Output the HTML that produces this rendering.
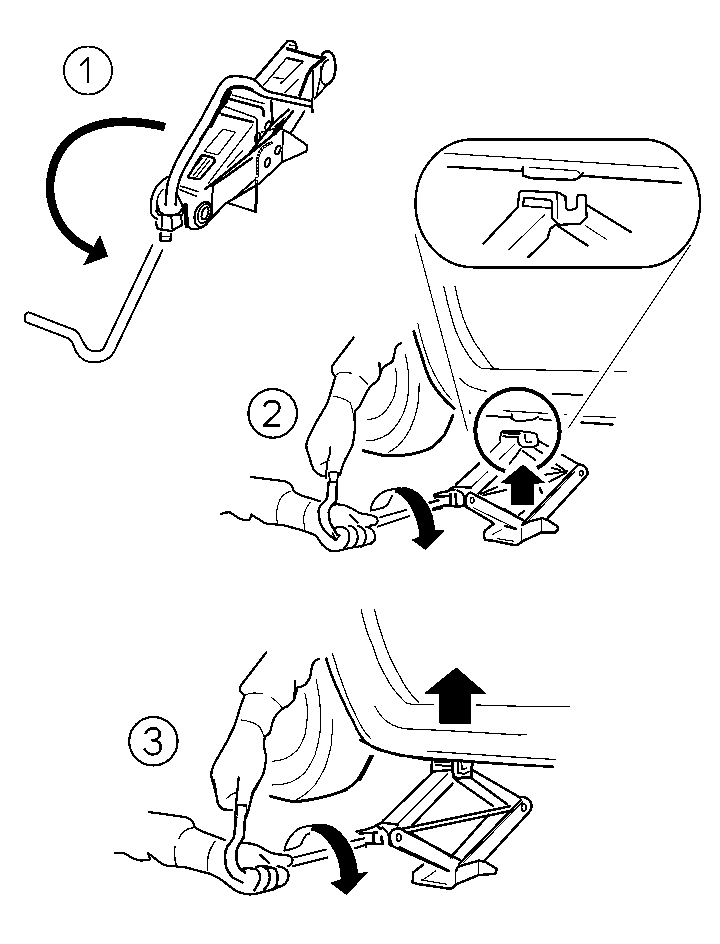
<!DOCTYPE html>
<html><head><meta charset="utf-8"><style>
html,body{margin:0;padding:0;background:#fff;}
svg{display:block;}
</style></head><body>
<svg width="720" height="944" viewBox="0 0 720 944" fill="none" stroke="#000" stroke-width="2" stroke-linejoin="round" stroke-linecap="round" shape-rendering="crispEdges">
<rect x="0" y="0" width="720" height="944" fill="#fff" stroke="none"/>
<!-- FIG1 -->
<g id="fig1">
<circle cx="88" cy="70.5" r="24" stroke-width="1.9"/>
<path d="M80,66 L88,58 L88,83" stroke-width="2.6" stroke-linecap="butt"/>
<path d="M165,127 C128,118 96,120 73,137 C50,155 46,188 53.5,209 C61,231 75,243 92,250" stroke-width="8.5" stroke-linecap="butt"/>
<path d="M100,236 L107.5,256 L83.75,265 Z" fill="#000" stroke-width="1"/>
<!-- lever -->
<path d="M152.5,245 L103.3,349.2 C99,352 92,352 88.3,349.2 C84,345 82,340 79,334 C76,330 73,329 70,328.3 L29.2,312.5 C27,312 25,314 25,316 L25,320 C25,321 26,322 27,322.5 L68.3,338.3 C71,340 73,343 74,347 C76,353 80,358 86,361 C94,364 104,362 110,357 C113,354 114,352 115,350 L162.5,250"/>
<!-- handle -->
<path d="M165.6,205 L166.7,189 C168,178 175,163 181,152 L200,121 L215.6,92.2 C219,85 223,78 230,76.5 C240,75.5 252,77 257,82 C261,87 264,90 270,92 L311.7,101 L312.5,112" stroke-width="2.4"/>
<path d="M175.6,205 L176.7,192 C178,183 182,172 187,164 L212,121 L223,100 C225,94 228,88 234,87 C242,86 250,89 258,94 C263,97 268,98 272,98.5 L312,107" stroke-width="2.4"/>
<path d="M222,101 C225,94 228,88 234,87 C242,86 247,87.5 252,90" stroke-width="3.6"/>
<path d="M210.5,126 L215.1,116.7 L220,108 L224.9,102.8 L229.7,92.4" stroke-width="4.6"/>
<path d="M200,140 L212,122" stroke-width="3"/>

<!-- jack1 head -->








<path d="M255,79.2 L287.5,41.25 C289,40.5 292,40.8 294.6,42.1 C296,43.5 296.5,46 296.7,48.3" stroke-width="2.5"/>
<path d="M289.2,45 L294.2,45.8" stroke-width="1.5"/>
<path d="M287.5,48.8 C295,51 305,54 313,56 L322,58" stroke-width="3.4"/>
<path d="M322,55 C323.5,52 326,51 328,51.3 C331.5,52 333.5,55 334.5,59 C335.8,65 335.6,73 333.3,78.3 C331.5,82 329,84.5 325,85" stroke-width="2.6"/>
<path d="M328.3,60 C325,61 323,64 322,68 C320.5,73 320.5,78 321.7,81.7 C322.5,83.5 324,84.5 325,85" stroke-width="2"/>
<path d="M325,57.5 L311.7,68.3 L307.5,75 L300,95" stroke-width="3.6"/>
<path d="M312.5,70 L313.3,95 L311.7,101" stroke-width="2"/>
<path d="M320.8,66.7 L320.8,75 L316.7,95" stroke-width="1.5"/>
<path d="M286.7,57.9 L302.5,61.7" stroke-width="2.5"/>
<path d="M286.7,57.9 L263.5,85.5 M302.5,62.5 L281,83 M274,77.5 L283,78.8" stroke-width="1.5"/>
<path d="M298.3,79.2 L285,92.5" stroke-width="1.2"/>
<path d="M328,84 L314.5,99" stroke-width="2"/>
<!-- body top -->
<path d="M232.5,95.1 L264.2,103.6" stroke-width="1.5"/>
<path d="M229.7,99 L262,107.8 C263.3,109 263.9,112 263.75,115.5" stroke-width="2.6"/>
<path d="M222,105.6 L255,117.4 L257,119.4 L257,147" stroke-width="1.5"/>
<path d="M222,114.4 L253,122.2" stroke-width="2.6"/>
<path d="M219,106.7 L220,113.3"/>
<path d="M222.9,129.2 L235.4,132.2 L218,154.9 L204.2,151.4 Z" stroke-width="1.3"/>
<!-- pad -->
<path d="M188,177 L201,156 Q203,155 205,155.5 L213,157.8 Q215,159 214.4,162.2 L200.5,178.5 Q199,179.5 197,179 L189,177.5 Z" stroke-width="2.5"/>
<path d="M189,174.4 L202.2,158.3 M193.3,175.6 L206.7,158.9 M196.7,176.7 L210,160" stroke-width="1.3"/>
<!-- body long lines -->
<path d="M252.8,125 L208.3,183.3" stroke-width="1.3"/>
<path d="M243,150 L227,168" stroke-width="1.3"/>
<path d="M292.8,111.5 L277,132 L205.6,188.9" stroke-width="2.6"/>
<path d="M288.9,109.6 L273.3,123.2 L250,152.3" stroke-width="2.4"/>
<path d="M276,127 L283,120 L282,127 L276,134 L271,136 Z" fill="#000" stroke-width="1.5"/>
<path d="M286,117 L274,127" stroke-width="1"/>
<path d="M232,200 L255.6,179.2"/>
<path d="M180.6,186.1 L198.3,191.7 M179.4,189.4 L196.1,196.1" stroke-width="1.6"/>
<ellipse cx="268" cy="125.7" rx="2.3" ry="4.6" transform="rotate(20 268 125.7)"/>
<ellipse cx="257.6" cy="137.5" rx="2.3" ry="4.6" transform="rotate(20 257.6 137.5)"/>
<ellipse cx="267.4" cy="162.5" rx="2.3" ry="4.6" transform="rotate(20 267.4 162.5)"/>
<ellipse cx="277.8" cy="150" rx="2.3" ry="4.6" transform="rotate(20 277.8 150)"/>
<path d="M271.4,142.8 C266,145 262,148 260.3,151.1 C258.5,154 257.5,157 257.5,160.8 L256.8,184.4" stroke-width="3"/>
<path d="M271.4,142.8 C266,145 262,148 260.3,151.1 C258.5,154 257.5,157 257.5,160.8 L256.8,184.4" stroke="#fff" stroke-width="1.2" stroke-dasharray="1.6 1.6" stroke-linecap="butt"/>
<path d="M256.8,184.4 L256.4,200 L255.4,209.4" stroke-width="3"/>
<path d="M271.1,100.8 L272.5,121.7" stroke-width="2.6"/>
<path d="M304.4,111.5 L290.8,132.9" stroke-width="2.2"/>
<path d="M262,132 L277.8,127.8" stroke-width="1.5"/>
<!-- base plates -->
<path d="M282.1,129 L290.8,133.9 L307.3,145.5 L306.4,151.4 L282.1,162.1 L259.7,183.3" stroke-width="2.2"/>
<path d="M283,132 L282.1,162.1" stroke-width="1.8"/>
<path d="M226.25,202.5 L256.25,212 L256.25,187.5"/>
<path d="M207.2,222.8 L225,203.9 L259.7,183.3" stroke-width="2.5"/>
<path d="M211.7,186.1 L225,177.2 L252,158" stroke-width="2.5"/>
<!-- socket / yoke -->
<path d="M167.2,177.2 C162,180 158.3,183.9 155,189 C152,195 150.6,201 150.6,207.2 C150.6,212 151.5,215 152.8,216.1 L157.2,219.4" stroke-width="2.2"/>
<path d="M162.8,189.4 C159,194 157.2,198 157.2,200.6 L156.1,211.7" stroke-width="1.5"/>



<path d="M177.2,195 L183.9,208.3 L188.3,226.1 L191.7,229.4 L200.6,228.3 L207.2,222.8 L211.7,211.7 L212.8,186.1" stroke-width="2"/>



</g>

<path d="M158,206 C158,212 162,215 168,215.5 C174,216 180,214 182,209" stroke-width="2.4"/>
<path d="M157.7,205.7 C156,209 156.5,213 159.7,215.5 M182,205 C184,209 184,212 182,215" stroke-width="2"/>
<path d="M159.7,215.5 L182,215" stroke-width="2"/>
<path d="M161.6,215.5 L161.6,227 M171.3,216 L172.3,228 M181,215 L182,225" stroke-width="2"/>
<path d="M155.8,222.2 L157.7,229 L171.3,231 L182,225" stroke-width="2.4"/>
<path d="M160.6,232.9 L160.6,240.7 L170.4,240.7 L171.3,233.9" stroke-width="2.4"/>
<path d="M161,236.5 L170.5,236.5" stroke-width="1.5"/>
<ellipse cx="203.3" cy="214.4" rx="8.2" ry="13" transform="rotate(20 203.3 214.4)" stroke-width="2.2"/>
<ellipse cx="204.2" cy="213.6" rx="5.8" ry="10" transform="rotate(20 204.2 213.6)" stroke-width="1.6"/>
<ellipse cx="205" cy="213.4" rx="3" ry="6.4" transform="rotate(20 205 213.4)" stroke-width="2"/>
<path d="M185.5,205 L186.8,226" stroke-width="4.5"/>
<!-- FIG2 inset -->
<g id="inset">
<rect x="415.5" y="139.3" width="284.5" height="128" rx="58" ry="64" stroke-width="2.4"/>
<path d="M445,153.3 L678.9,168.2" stroke-width="1.2"/>
<path d="M448.3,166.7 L521.7,171.1 L523.2,166.7 L523.2,175.7" stroke-width="2.3"/>
<path d="M529.4,167.4 L576.7,170.8 Q579.5,172 579.4,173.6" stroke-width="1.3"/>
<path d="M523.9,175.7 C528,178 533,178.5 537.8,178.5 L571.1,179.9 C576,180 579,178 580.8,175.7 L582.9,172.9 M580.8,175.7 L681.1,182.9" stroke-width="2.5"/>
<path d="M517.9,207.1 L519,193.5 Q519.5,191 522,190.8 L557.5,192.5 Q561.5,193 562,195 L565.5,196 L565.8,207.1 Q567,210 570,210.2 L574.2,209.2 Q577,208 577.3,205 L577.3,196.7 Q578,194.6 580.4,194.6 L585.6,195.6 L586.7,217.5 L580.4,223.8 L559.6,224.8 L555.4,221.7" stroke-width="2.2"/>
<path d="M523.1,205 L524.2,197.7 L549.2,199.8 Q552,201 552.3,202.9 L552.3,218.5 L555.4,221.7" stroke-width="2.2"/>
<path d="M557,194.6 L557.5,218" stroke-width="1.2"/>
<path d="M517.9,207.1 L483.5,243.5" stroke-width="2.3"/>
<path d="M523.1,206 L551.3,208.1" stroke-width="1.8"/>
<path d="M545,214.4 L508.5,249.8" stroke-width="1"/>
<path d="M555.4,224.8 L550.2,229 Q548.5,233 548.1,238.3 L528.3,257.1" stroke-width="2.3"/>
<path d="M557.5,225.8 L587.7,245.6" stroke-width="2.3"/>
<path d="M586.7,205 L631.1,232.2" stroke-width="2.3"/>
<path d="M585.6,225.8 L606.5,239.4" stroke-width="1"/>
</g>

<!-- FIG2 body -->
<g id="fig2body">
<path d="M415,234 L467.4,430.5" stroke-width="1.1"/>
<path d="M469.6,411 L470.2,413.5" stroke-width="1.5"/>
<path d="M690,245.5 L568.75,427.5" stroke-width="1.1"/>
<path d="M583.75,416.25 L615,417.5" stroke-width="1.2"/>
<path d="M581.25,422.5 L612.5,424.5" stroke-width="2.4"/>
<path d="M565,414.5 L567,415" stroke-width="1.2"/>
<path d="M443.75,286.25 C448,305 452,322 457.5,335 C462,346 466,352 470,357.5 C474,363 478,367 482.5,368.75 L598.75,371.25 M615,371.25 L626.25,371.25" stroke-width="1.2"/>
<path d="M455,286.25 C458,300 461,313 465,322.5 C470,335 475,344 480,350 C485,357 489,363 493.75,368.75" stroke-width="1.2"/>
<path d="M460,378.75 C464,383 468,386 472.5,387.5 C477,389 481,390.5 486.25,391.25" stroke-width="1.2"/>
<path d="M552.5,393.75 L582.5,395" stroke-width="2"/>


<!-- tire -->
<path d="M413.8,331.5 C416,340 418,346 420.7,352.9 C423,361 425,368 428.3,375.8 C431,382 434,387 437.5,391.1 C441,396 444,399 446.7,401.8 L454.3,408.7" stroke-width="3"/>
<path d="M418,323.8 L419.2,330 C422,342 425,351 428.3,360.6 C432,370 436,378 440.6,385 C444,391 448,396 451.3,399.5" stroke-width="1.1"/>
<path d="M452.8,415.6 C450,424 447,429 445.1,433.9 C441,440 436,444 431.4,447.6 C425,451 419,452.5 413.1,453.8 C406,455 399,456 393.2,456 C387,456 383,455.5 379.4,454.5 C373,453 368,452 363.4,450.7" stroke-width="3"/>
<path d="M395.5,368.2 C396.5,374 397,379 396.3,383.5 C395.8,389 395,394 393.2,398.8 C391,403 388.5,407 385.6,411 C382,414.5 379.5,416.5 376.4,417.9 C373,419 370,419.4 367.2,419.4" stroke-width="1.2"/>
<path d="M405.4,354.4 C407,362 408.5,369 408.5,375.8 C409,384 408.5,391 407.7,398.8 C406,406 404,413 400.8,418.6 C397,425 393,430 388.6,433.9 C384,437 379,439 374.9,440 C371,440.8 368.5,440.9 366.5,440.8" stroke-width="1.2"/>
<path d="M419.2,383.5 C419,392 418.8,399 417.6,406.4 C416,414 413.5,422 410,429.3 C406,437 402,442 397.8,446.1 C394,449 391,451 388.6,452.2" stroke-width="1.2"/>
<!-- upper hand fig2 -->
<path d="M353.75,337.5 L333.75,363.75 C331.5,366.5 331.5,370 332.5,372.5 C333.2,374.5 334.5,375.5 335.6,376.25 C333,385 330,395 327.5,402.5 C323,412 318,418 315,425 C311,432 307,440 306.25,445 C306,449 307.5,452 308.75,455 C310,460 312,466 313.75,470 C316,473 319,475 322.5,476.25 L326,476" stroke-width="2.3"/>
<path d="M400.8,343 C398,345 396,346.5 395.5,348.3 C395,351 394.5,354 394,356 C393.5,359 393,361 391.7,362.1 C388,364 385,366 382.5,368.2 M379.4,362.9 L380.2,375.8 M382.5,368.2 C381,372 380,376 377.9,380.4 C375,383 372.5,384.5 370.3,386.5 C368,389.5 367,391.5 365.7,394.2 C363,399 361.5,403 359.6,406.4 C357.5,409 356,410 355,411" stroke-width="2.3"/>
<path d="M336.9,374.4 C338.5,373 340,372.5 341.25,372.5 L351.9,373.1 M359.4,376.25 C362.5,378.5 365.5,381.5 368.1,385" stroke-width="1.1"/>
<path d="M333.75,396.25 C339,397 345,399 350,402.5 C351.5,405 352.5,408 352.5,412.5" stroke-width="1.1"/>
<path d="M355,411 C354,416 354.5,420 355,425 C355,432 354,438 352.5,445 C350,451 347.5,456 345,460 C343,465 341,470 340,475" stroke-width="2.3"/>
<path d="M330.5,447.2 L329.5,455 L327,462.8 L326,478" stroke-width="2"/>
<path d="M320,465 C323,463 326,461.5 329,460.5" stroke-width="1.1"/>
</g>

<!-- circle 2 -->
<circle cx="272.7" cy="413.4" r="24.3" stroke-width="2.2"/>
<path d="M264.4,406.5 C265,403 268,401.2 272,401.2 C276.5,401.2 279.5,403.5 279.5,407.5 C279.5,410.5 277.5,413 275,415 L264,425.5 L280,425.5" stroke-width="2.6" stroke-linecap="butt"/>
<!-- lower arm fig2, tile (210,440) s4 -->
<g transform="translate(210,440) scale(0.25)" stroke-width="9">
<path d="M165,148 L300,165 C315,170 325,180 330,190 L335,205 C345,212 352,217 360,220 L440,245"/>
<path d="M45,295 C60,290 72,288 80,290 C95,297 110,312 120,315 C135,320 150,322 160,318 L165,298 C175,305 190,315 200,320 C210,328 220,333 230,335 L290,340 C320,348 350,355 380,365 L420,380 C435,395 443,410 450,420 C460,430 470,437 480,440"/>
<path d="M320,205 C295,215 280,230 275,250 C265,280 263,310 270,330" stroke-width="4.5"/>
<path d="M400,250 C385,270 375,290 375,310 C374,330 377,345 380,360" stroke-width="4.5"/>
</g>

<!-- fig2 fist tile (300,470) s8 -->
<g transform="translate(300,470) scale(0.125)" stroke-width="17">
<path stroke-width="20" d="M228,100 C224,150 222,200 215,230 C200,255 175,270 160,290 C150,310 148,325 150,340 C152,370 155,395 160,420 C172,450 185,472 200,490 C220,510 240,528 260,540 L285,560"/>
<path stroke-width="20" d="M295,100 C293,150 292,200 290,250 C275,265 260,278 250,290 C238,305 232,320 230,340 C232,370 235,395 240,420 C250,440 260,455 270,470 C280,490 290,505 300,520"/>
<path d="M262,505 L288,560 L318,522" stroke-width="15"/>
<path d="M232,25 C250,12 290,12 305,25 L297,97 L240,97 Z" stroke-width="15"/>
<path d="M250,290 C265,280 280,275 290,275 C310,275 330,277 350,280 C375,290 400,300 420,310 C440,322 460,335 480,345 C510,352 535,356 560,360 C580,365 600,370 610,380 C620,390 622,400 620,410 C615,425 607,435 600,440 L560,445"/>
<path d="M400,360 C420,380 440,400 460,420"/>
<path d="M268,470 C290,458 315,455 330,455 C370,460 395,490 395,530 C395,570 380,600 350,625"/>
<path d="M390,445 C430,450 460,480 462,530 C462,570 450,600 420,620"/>
<path d="M465,448 C500,455 525,485 527,530 C527,565 515,595 490,615"/>
<path d="M530,455 C570,460 598,490 600,530 C600,560 590,580 565,592"/>
<path d="M240,648 C265,655 290,652 330,640 C360,632 385,626 410,622 C440,618 465,614 490,608 C520,600 545,595 565,588 L600,560"/>
</g>
<!-- tile (330,460) s4.8 -->
<g transform="translate(330,460) scale(0.2083333)" stroke-width="9">
<path d="M240,275 L365,240 M230,320 L380,270"/>



</g>

<path d="M370.6,510.6 C371,506 374,500 377.5,496.25 C380,493.5 383,492 387,490.5 C391,489.5 396,488.5 400,488.1" stroke-width="2"/>
<path d="M370.6,510.6 C374,510 378,509.2 383.75,507.5 C386,506 387.5,505 388.5,503 C389.5,501 390.5,498.5 391.9,496.25" stroke-width="2"/>
<path d="M395,490 C398,488.5 401,487.8 403.75,487.75 C407,487.6 409,488.3 411.25,489.4 C414,490.8 416.5,492 418.75,493.75 C421,496 423,498.5 425,501.25 C427,504 428.7,507 430,510 C431.5,513.5 432.5,516.5 433.1,520 C433.8,523.5 434.5,527 435,530 L443.75,530.6 L425.6,549.4 L412.5,540 L420,536.9 C419.5,534 419.2,530.5 418.75,527.5 C418,524.5 417.3,521.5 416.25,518.75 C415,515.5 414,512.8 412.5,510 C411,507 409.5,504 407.5,501.25 C405.5,499 403.5,497 401.25,495 C399,493.5 397,492.5 395,491.9 Z" fill="#000" stroke-width="1"/>
<path d="M429.4,503.1 L438.75,500.6 M433.1,510 L442.5,508.1" stroke-width="2"/>
<!-- magnifier circle -->
<path d="M505.3,471.1 A42.1,42.1 0 1 1 537.0,468.1" stroke-width="4" stroke-linecap="butt"/>
<path d="M503.3,410.7 L547.8,413.5" stroke-width="1.3"/>
<path d="M486.7,415.6 L511.7,417.6 M511.7,414.2 L511.7,418.3 C513,420 516,421.2 518.6,421.4 L532.5,419.7 C535,419 537,418 538,416.8 M539.4,419 L550.6,420.4" stroke-width="2"/>
<path d="M499.9,439.9 L501.25,432.2 Q502,430.6 504.7,430.6 L522.8,431.5 L533.9,432.9 Q537,434 537.4,436.4 L538,444.7 L533.9,446.8 L522.8,447.2 L518.6,443.3 L518,437.1 L503.3,436.4" stroke-width="2"/>
<path d="M504,432.5 L519,433.5" stroke-width="3.5"/>
<path d="M524.9,435 L525.6,441.5 Q527,442.8 531.8,442" stroke-width="1.6"/>
<path d="M490.8,451.7 L500.6,442" stroke-width="2"/>
<path d="M499.2,459.3 L514.4,444.7" stroke-width="1"/>
<path d="M509.6,463.5 L515.8,455.8 L517.9,453 L520.7,448.9" stroke-width="2"/>
<path d="M522.8,451 L535.3,460 M535.3,448.9 L542.2,453 M538,440.6 L547.8,446.1" stroke-width="2"/>
<!-- big up arrow -->
<path d="M523.1,465 L544,482.5 L533.75,483.5 L533.6,504.6 L511.25,504.6 L511.25,483.5 L501.5,482.7 Z" fill="#000" stroke-width="1"/>
<path d="M540,488.6 L542,493" stroke-width="2.5"/>
<!-- jack2 -->
<path d="M479.2,463.5 L456.25,484.3 L455.6,487" stroke-width="2.5"/>
<path d="M487.5,471.8 L471.5,487" stroke-width="1.1"/>
<path d="M496.5,476.7 L478.5,493.3" stroke-width="2.5"/>
<path d="M480.6,494 L497.2,487 M483.3,495.4 L505.6,489.9" stroke-width="2.2"/>
<path d="M470.8,492.6 L522.2,519.7" stroke-width="2.5"/>
<path d="M473.6,507.9 L516.7,528.75" stroke-width="1.1"/>
<path d="M470.8,492.6 C467,493.5 465.5,497 465.5,500 C465.5,503.5 466,505.5 466.7,507.2 L490.3,521.1" stroke-width="2.5"/>
<ellipse cx="472.2" cy="500.3" rx="1.8" ry="2.8" stroke-width="1.5"/>






<path d="M434,494.7 L441.3,492.3 L448,491.3 L451.3,488 L456,486.7 L465.3,487.3 L471.3,487.7" stroke-width="2.5"/>
<path d="M434.7,496.7 L451.3,496" stroke-width="2.5"/>
<path d="M434,494.7 L434.7,498" stroke-width="2"/>
<path d="M429.3,502.7 L438,500" stroke-width="2.2"/>
<path d="M433.3,508.7 L444.7,505.3 L458,506.7 L466,505.5" stroke-width="2.5"/>
<path d="M450.5,494 L450.5,506 M455.5,494 L456.5,506" stroke-width="2.6"/>
<path d="M452,490 L455,489.5" stroke-width="2"/>
<path d="M457.5,490.5 C462,492 464.5,496 464.5,500 C464.5,503 463.5,505 462,506.5" stroke-width="2.2"/>
<path d="M490.3,521.1 L493.75,523.75 L485,530.6 L483.75,535 L485,540 L492.5,540.6 L513.75,545 L517.5,545 L522.5,541.25 L541.25,532.5 L555,532.5 L558.1,529.4 L557.5,526.25 L547.5,520 L542.5,518.1 L530,521.25 L522.5,525" stroke-width="2.5"/>
<path d="M521.25,528.75 L521.25,542.5 M541.25,520 L541.25,531.9" stroke-width="1.5"/>
<path d="M492.5,534.4 L501.25,530 M497.5,538.75 L513.75,541.25" stroke-width="1.1"/>
<path d="M505,526 L516.25,529" stroke-width="2.5"/>
<path d="M523,523.3 L577.2,465.7 C579,464.3 582,464.5 584,466 C586.5,468 587.8,471 587.6,474 L586.25,476.1 L546.7,519.2" stroke-width="2.5"/>
<path d="M528.6,520.6 L574.4,472" stroke-width="1.1"/>
<ellipse cx="581.4" cy="473.3" rx="1.8" ry="2.6" stroke-width="1.5"/>
<path d="M545.3,474.7 L567.5,471.25 M549.4,481.7 L566,473 M556.4,464.3 L566.1,471.25 M552,468 L560,470" stroke-width="2"/>
<path d="M562,454.6 L580,465" stroke-width="2.2"/>
<path d="M505,509.4 L525.8,521.9 M518.9,515 L524.4,510.8" stroke-width="2.2"/>



<!-- FIG3 -->
<g id="fig3">
<!-- body tile (340,600) s4 -->
<g transform="translate(340,600) scale(0.25)" stroke-width="5">
<path d="M85,40 C100,110 115,150 130,180 C145,230 160,270 180,300 C195,330 210,355 230,375 C245,392 255,405 265,412 C280,417 295,418 310,418 L375,418 M545,420 L720,425"/>
<path d="M138,40 C148,80 158,115 170,150 C185,195 198,230 215,260 C232,292 248,325 265,350 C282,375 298,395 315,410"/>
<path d="M140,425 C150,445 162,465 180,480 C200,497 225,508 255,515 L420,522 L720,540"/>


<path d="M355,605 L720,630"/>
<path d="M120,625 C105,660 85,695 70,720" stroke-width="10"/>
<path d="M465,272 L582,373 L522,375 L522,492 L398,492 L398,375 L340,373 Z" fill="#000" stroke-width="4"/>
</g>
<path d="M326.25,658.75 C328,665 330,671 331.6,675.1 C334,681 336,686 337.5,689.1 L344.4,704.2 C347,710 349,714 351.4,718.2 C354,723 356,728 358.4,732.2 C360,735 362,738 364.2,740.3 C366.5,742.7 369,744.5 371.2,746.1 C373.5,747.5 376,748.7 378.2,749.6 L400,755.5 L432.5,758.75 L520,765" stroke-width="2.6"/>
<path d="M332.5,653.75 C333,656 334,658 334.6,660 C336.5,667 338.8,674 341,679.8 C343.3,686 345.5,692.5 347.9,698.4 C350,704 352.5,709 354.9,713.6 C357,718.5 359.5,723 361.9,727.5 C364.5,731.5 367.5,735.5 370.6,738.6" stroke-width="1.2"/>
<path d="M520,706.25 L569.2,706.3 M520,735 L526.7,734.5 M520,757.5 L555.8,759.5" stroke-width="1.2"/>
<path d="M520,765 L552.5,766.7" stroke-width="2.6"/>
<!-- hand/tire tile (200,640) s4 -->
<g transform="translate(200,640) scale(0.25)" stroke-width="9.2">
<path d="M265,50 L165,180 C158,192 158,200 160,205 L178,222"/>
<path d="M178,222 C190,215 200,212 215,212 C230,212 240,213 250,215" stroke-width="4.5"/>
<path d="M285,230 C300,240 310,248 315,255 C322,262 327,270 330,275" stroke-width="4.5"/>
<path d="M475,75 C465,80 458,85 455,90 C448,100 446,110 445,120 C443,132 442,142 440,150 C433,162 427,172 420,180 C410,186 400,189 390,190 M380,165 L378,230 M390,190 C385,210 380,228 375,240 C365,250 357,258 350,265 C340,270 335,272 330,275 C318,285 310,292 305,300 C298,310 293,320 290,330 C286,345 283,358 280,370 C275,378 268,382 260,385"/>
<path d="M178,222 C172,240 166,255 160,270 C152,300 145,325 135,350 C122,375 112,398 100,420 C85,445 72,468 60,490 C50,510 45,525 45,540 C46,555 50,568 55,580 C58,595 61,607 65,620 C68,635 70,648 75,660 C82,672 90,678 100,680 L130,680"/>
<path d="M165,320 C180,322 195,325 210,330 C225,337 235,343 240,350 C247,362 252,373 255,385" stroke-width="4.5"/>
<path d="M260,385 C257,400 255,410 255,420 C258,437 262,452 265,470 C263,490 260,510 255,530 C248,545 242,558 235,570 C227,587 218,603 210,620 C203,640 199,660 195,680 L180,720"/>
<path d="M155,550 L150,600 L145,650 L140,720"/>
<path d="M105,635 C113,625 122,618 130,615 L150,610" stroke-width="4.5"/>
<path d="M150,660 L185,660 L185,700" stroke-width="5"/>



<path d="M690,465 C680,485 670,503 660,520 C645,543 628,563 610,580 C588,597 564,607 540,615 C513,624 486,630 460,635 C433,640 406,645 380,645 C358,645 338,640 320,635 L280,625" stroke-width="11"/>
<path d="M420,215 C427,245 431,272 430,300 C428,328 425,355 420,380 C411,403 402,423 390,440 C375,455 358,467 340,475 C323,481 306,484 290,485" stroke-width="4.5"/>
<path d="M465,160 C472,195 478,228 480,260 C482,297 482,334 480,370 C476,400 469,430 460,460 C448,485 436,508 420,530 C402,548 382,561 360,570 C337,577 313,580 290,580" stroke-width="4.5"/>
<path d="M530,320 C530,355 528,388 525,420 C519,452 510,482 500,510 C488,535 475,558 460,580 C444,597 428,612 410,625 L375,645" stroke-width="4.5"/>
</g>
</g>

<g id="fig3b">
<circle cx="153.4" cy="741.25" r="24.2" stroke-width="2.2"/>
<path d="M145.6,734 C146.5,730.5 149.5,728.2 153.5,728.2 C157.5,728.2 159.8,730.8 159.8,734 C159.8,737.5 156.5,740 151.9,740.2 C157,740.3 160.8,742.8 160.8,747.2 C160.8,751.5 157.5,754.4 152.8,754.4 C148.8,754.4 146,752 144.4,748.5" stroke-width="2.6" stroke-linecap="butt"/>
<!-- lower arm tile (100,780) s4 -->
<g transform="translate(100,780) scale(0.25)" stroke-width="9">
<path d="M195,128 L340,148 C355,153 365,158 370,165 L380,190 C395,200 408,206 420,210 L500,240"/>
<path d="M60,293 L95,292 C108,298 120,307 130,312 C143,318 155,322 165,322 C180,322 192,320 200,318 L192,292 C200,298 208,304 215,310 C225,318 232,325 240,330 C250,337 260,341 270,343 L300,345 L345,350 C365,355 383,360 400,365 C415,369 428,372 440,375 C452,381 462,386 470,390 C482,396 492,403 500,410 L505,415"/>
<path d="M375,190 C360,193 345,198 335,205 C325,215 318,225 315,235" stroke-width="6"/>
<path d="M300,265 C298,278 297,290 298,300 C299,315 301,328 305,340" stroke-width="6"/>
<path d="M460,245 C452,257 446,268 440,280 C435,293 432,306 430,320 L430,360" stroke-width="6"/>
<path d="M545,150 C542,178 539,205 535,230 C528,243 520,255 510,265 C504,277 501,289 500,300 C500,318 502,334 505,350 C512,365 520,378 530,390 L570,410" stroke-width="10.5"/>
<path d="M580,150 C579,178 577,205 575,230 C568,241 561,251 555,260 C550,270 547,280 545,290 C545,304 546,317 548,330 C551,340 555,348 560,355 L580,370" stroke-width="10.5"/>
<path d="M550,140 L550,100 L585,105 L585,140" stroke-width="6"/>
<path d="M455,0 C459,17 463,33 465,50 C466,63 467,77 470,90 C476,100 482,108 490,115 C503,118 516,119 530,120" stroke-width="8"/>
<path d="M510,70 C520,62 530,55 540,50" stroke-width="5"/>
<path d="M640,0 C628,17 617,33 610,50 C605,67 602,84 600,100 C595,115 588,130 580,145" stroke-width="8"/>
</g>
<!-- circular arrow tile (230,790) s4 -->
<g transform="translate(230,790) scale(0.25)" stroke-width="8">



<path d="M255,270 L385,238 M250,305 L390,270"/>
<path d="M160,25 C195,37 228,45 260,50 C330,43 400,25 470,0" stroke-width="8"/>
</g>
</g>

<path d="M284.4,850.6 C285,847 285.8,845 286.9,842.5 C288,840 289.5,837.5 291.25,835.6 C293.5,832.5 296,830.5 298.75,828.75 C301.5,827.3 304.5,826.7 307.5,826.25 L315,825" stroke-width="2"/>
<path d="M284.4,850.6 C287,850 290,849.5 292.5,848.75 C295,848 297.5,847 300,845.6 C301.5,844 302.3,842 303.1,840 C304,838 305,836.5 306.25,835 L309.4,833.5" stroke-width="2"/>
<path d="M313,825.2 C316,824.6 320,824.3 323.75,824.4 C327,824.8 330,825.7 332.5,826.9 C335.5,828.5 338,830.5 340,832.5 C342.5,835 344.5,837.5 346.25,840 C348.3,843 350,845.8 351.25,848.75 C352.8,852 354,855.5 355,858.75 C355.9,861.8 356.5,864.5 356.9,867.5 L357.5,873.75 L367.5,872.5 L346.25,894.4 L331.25,883.1 L341.25,879.4 L340,867.5 C339.2,864 338.5,860.8 337.5,857.5 C336,854 334.5,850.7 332.5,847.5 C330.5,844.5 328.5,841.5 326.25,838.75 C324,836.5 321.5,834.3 318.75,832.5 C316.5,831.3 314,830.5 311.25,830 Z" fill="#000" stroke-width="1"/>
<path d="M351.25,841.25 L361,838.75 M355,848.1 L365,845" stroke-width="2"/>
<path d="M423.1,864.7 L413.3,872.4 L412.6,882.8 L418.9,884.2 L446.7,888.3 L452.2,888.3 L456.4,884.2 L478.6,875.1 L495.3,873.75 L496.7,868.9 L485.6,861.9 L478.6,860.6 L457.8,866.8 L456.4,870.3" stroke-width="2.5"/>
<path d="M455.7,870.3 L455.7,882.8 M478.6,861.25 L478.6,874.4" stroke-width="1.3"/>
<path d="M421.7,880.7 L435.6,871 M421.7,880 L446.7,884.2" stroke-width="1.1"/>
<path d="M356.5,831.5 L366.2,829.6 L374,826.7 L378.9,823.7 L382.8,822.8 L394.4,824.2 L398.3,824.7" stroke-width="2.5"/>
<path d="M351.7,841.2 L364.3,838.3 M355.5,848 L365.3,845.1" stroke-width="2.2"/>
<path d="M359.4,833.5 L377,832.5" stroke-width="2.5"/>
<path d="M373.5,833.5 L373.8,843 M381.5,837 L382.5,844" stroke-width="3"/>
<path d="M366.2,843.2 L382.8,844.2 M366,843 L366,847" stroke-width="2.5"/>
<path d="M382.5,827.6 C386,830 389,835 389.5,839 C389.8,841.5 389.5,843 389,844.5" stroke-width="2.2"/>
<path d="M402.5,829 C397,827.5 392,829 390.5,833 C389.5,837 390,841.5 392,845" stroke-width="2.4"/>
<path d="M377,826 L381,829" stroke-width="3"/>
<!-- fig3 fist -->
<g stroke-width="2.4">
<path d="M239.7,842.9 C243,842.8 246,843 249.4,843.4 C252.5,844 255.5,844.8 258.2,845.8 C260.5,847 263,848.5 265,849.7 C267.5,851 269.5,852.2 271.8,853.1 C274.5,854 277.5,854.3 280.5,854.6 L288.3,855.5 C290.5,856.3 291.8,857.3 292.2,858.5 C292.6,860 292.4,862 291.7,863.3 C290.8,864.8 289.5,865.6 288.3,866.2"/>
<path d="M260.1,854.6 L268.9,863.3" stroke-width="2.2"/>
<path d="M240.7,869.2 C243.5,868.5 246.5,868.2 249.4,868.2 C251.5,868.3 253.5,868.7 255.3,869.2"/>
<path d="M256.2,867.2 C258,866.4 260,865.9 262.1,865.8 C264,865.8 265.5,866 266.9,866.2 C268,866.8 269,867.4 269.8,868.2"/>
<path d="M256.2,869.2 C258.5,871 260,873.5 260.1,876 C260.2,879 259.5,881.5 258.2,883.7 C257,886 255.8,888.5 254.3,890.5"/>
<path d="M262.1,866.2 C264.5,867 266.5,868.5 267.9,870.1 C269.3,872.5 269.9,875 269.8,877.9 C269.6,880.5 269,882.8 267.9,884.7 C266.8,886.5 265.5,888 264,889.6"/>
<path d="M268.9,867.2 C271.5,867.5 274,868 275.7,869.2 C277,871.5 277.6,874 277.6,876.9 C277.6,879.5 277.3,882 276.6,884.7 C275.5,886.5 274.3,888 272.8,889.6"/>
<path d="M277.6,866.2 C280,866.6 282.5,867.2 284.4,868.2 C286.3,869.5 287.6,871 288.3,873 C288.8,875.5 288.4,878.3 287.3,880.8 C286,883 284.5,884.6 282.5,885.7 C281,886.3 279,886.6 277.6,886.6"/>
<path d="M226,883.5 L230,886.6 C233,889 236.5,891.2 239.7,892.5 C243,893.6 246,894.2 249.4,894.4 C252.5,894.3 256,893.8 259.2,893 C262.5,892.2 265.5,891.3 268.9,890.5 C272,889.6 275,888.6 277.6,887.6"/>
</g>
<!-- fig3 saddle -->
<path d="M432.2,759.4 L431.1,771.7 L451,770" stroke-width="2.5"/>
<path d="M435.6,761.7 L448.9,761.7" stroke-width="3"/>
<path d="M435.6,765 L450,766.1" stroke-width="2"/>
<path d="M452.2,761.7 L453.3,777.2 L457.8,778.3 L471.1,777.2 L472.2,763.9" stroke-width="3"/>
<path d="M457.8,762.8 L457.8,772.8 L464.4,773.9 L468.9,771.7" stroke-width="2"/>
<path d="M461.1,760.6 L462.2,769.4 L466.5,768.3" stroke-width="1.8"/>
<path d="M432,759.2 L472,761.5" stroke-width="3"/>
<path d="M455,779.3 L493.3,806.1 M472,778.5 L506.7,803.9" stroke-width="2.5"/>
<path d="M530.3,810.8 L485.8,859.4 M521,800 L459,864 M488.7,814.6 L450.8,857.3" stroke-width="2.5"/>
<path d="M522.5,802 L463.5,862.5" stroke-width="1.1"/>
<!-- jack3 tile (360,740) s4 -->
<g transform="translate(360,740) scale(0.25)" stroke-width="10">
<path d="M0,0 C20,12 40,22 60,30 C80,38 100,45 120,50 C170,62 230,75 290,82" stroke-width="10"/>
<path d="M270,45 L720,75" stroke-width="5"/>
<path d="M450,88 L720,105" stroke-width="10"/>
<path d="M50,65 C35,98 18,130 0,160" stroke-width="10"/>



<path d="M295,125 L90,325 M370,175 L210,340" />
<path d="M350,135 L155,330" stroke-width="4.4"/>

<path d="M450,120 L640,230" />
<path d="M640,230 C655,225 675,232 682,248 C688,262 686,275 681,283"/>

<ellipse cx="655" cy="270" rx="9" ry="14" stroke-width="7"/>
<path d="M170,355 L600,265 M190,370 L595,285"/>
<path d="M150,350 L400,480 M120,420 L355,525 M160,430 L350,520"/>

<ellipse cx="155" cy="390" rx="9" ry="14" stroke-width="7"/>
<path d="M200,370 L370,470"/>





</g>
</svg>
</body></html>
